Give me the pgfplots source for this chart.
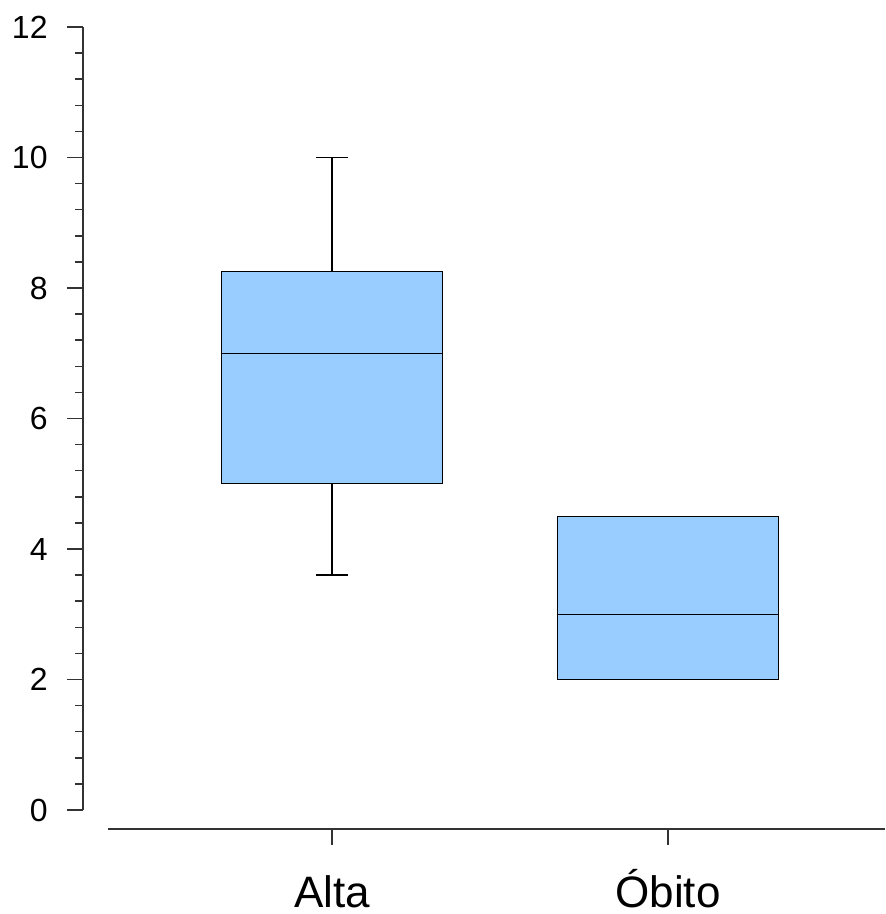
\documentclass[border=0pt]{standalone}
\usepackage{fontspec}
\setmainfont{Liberation Sans}
\usepackage{pgfplots}
\pgfplotsset{compat=1.18}
\usepgfplotslibrary{statistics}
\definecolor{boxblue}{HTML}{99CCFF}
\begin{document}
\begin{tikzpicture}
\begin{axis}[
  scale only axis,
  width=388.5pt, height=391.5pt,
  xmin=0.3333, xmax=2.6458,
  ymin=0, ymax=12,
  clip=false,
  axis y line=left, axis x line=bottom,
  axis y line shift=12.5pt,
  axis x line shift=9.5pt,
  axis line style={-, line width=0.75pt, black!80},
  xtick={1,2}, xticklabels={Alta, Óbito},
  ytick={0,2,...,12},
  minor y tick num=4,
  tick align=outside,
  major tick length=8pt, minor tick length=4pt,
  tick style={line width=0.75pt, black!80},
  /pgf/number format/assume math mode=true,
  yticklabel style={font=\fontsize{16}{16}\selectfont, anchor=east, inner sep=0pt, xshift=-9.5pt},
  xticklabel style={font=\fontsize{22}{22}\selectfont, anchor=base, inner sep=0pt, yshift=-31.5pt},
  boxplot/draw direction=y,
  boxplot/box extend=0.658,
  boxplot/whisker extend=0.095,
]
\addplot+[boxplot prepared={
    draw position=1,
    lower whisker=3.6, lower quartile=5.0,
    median=7.0,
    upper quartile=8.25, upper whisker=10.0},
  draw=black, line width=0.6pt, fill=boxblue, mark=none, solid]
  coordinates {};
\addplot+[boxplot prepared={
    draw position=2,
    lower whisker=2.0, lower quartile=2.0,
    median=3.0,
    upper quartile=4.5, upper whisker=4.5},
  draw=black, line width=0.6pt, fill=boxblue, mark=none, solid]
  coordinates {};
\path (axis cs:0.0119,-1.594) rectangle (axis cs:2.6458,12.414);
\end{axis}
\end{tikzpicture}
\end{document}
